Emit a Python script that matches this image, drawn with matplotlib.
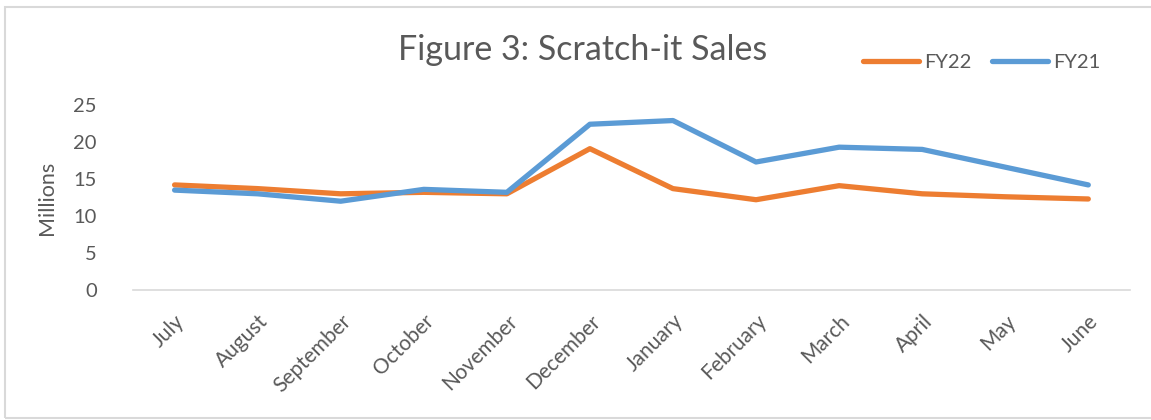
import matplotlib

matplotlib.use("Agg")
import matplotlib.pyplot as plt
from matplotlib.patches import Rectangle

months = ["July", "August", "September", "October", "November", "December",
          "January", "February", "March", "April", "May", "June"]
fy22 = [14.2, 13.7, 13.0, 13.2, 13.0, 19.1, 13.7, 12.2, 14.1, 13.0, 12.6, 12.3]
fy21 = [13.5, 13.0, 12.0, 13.6, 13.2, 22.4, 22.9, 17.3, 19.3, 19.0, 16.6, 14.2]
y_ticks = [0, 5, 10, 15, 20, 25]

TEXT = "#595959"
plt.rcParams["font.family"] = ["Lato", "DejaVu Sans"]

fig = plt.figure(figsize=(11.51, 4.2), dpi=100)
fig.patches.append(Rectangle((5 / 1151, 0.004), 1.2, 0.98, transform=fig.transFigure,
                             fill=False, edgecolor="#d9d9d9", linewidth=1.5))
ax = fig.add_axes([0.1156, 0.3095, 0.866, 0.4405])

x = range(len(months))
ax.plot(x, fy22, color="#ED7D31", linewidth=3.8, solid_capstyle="round", label="FY22")
ax.plot(x, fy21, color="#5B9BD5", linewidth=3.8, solid_capstyle="round", label="FY21")

ax.set_xlim(-0.5, len(months) - 0.5)
ax.set_ylim(0, 25)
ax.set_yticks(y_ticks)
ax.set_xticks(list(x))
ax.set_xticklabels(months, rotation=45, ha="right", rotation_mode="anchor")
ax.tick_params(axis="x", length=0, pad=15, labelsize=15, labelcolor=TEXT)
ax.tick_params(axis="y", length=0, pad=26, labelsize=14.5, labelcolor=TEXT)
for lbl in ax.get_yticklabels():
    lbl.set_horizontalalignment("right")

for side in ["top", "right", "left"]:
    ax.spines[side].set_visible(False)
ax.spines["bottom"].set_color("#d9d9d9")
ax.spines["bottom"].set_linewidth(1.2)

ax.set_ylabel("Millions", fontsize=15.5, color=TEXT, labelpad=12)
fig.text(0.506, 0.88, "Figure 3: Scratch-it Sales", ha="center", va="center",
         fontsize=24.5, color=TEXT)
fig.legend(loc="center", bbox_to_anchor=(0.853, 0.852), ncol=2, frameon=False,
           fontsize=14.5, labelcolor=TEXT, handlelength=2.8, handletextpad=0.25,
           columnspacing=1.0)

fig.savefig("out.png", dpi=100)
